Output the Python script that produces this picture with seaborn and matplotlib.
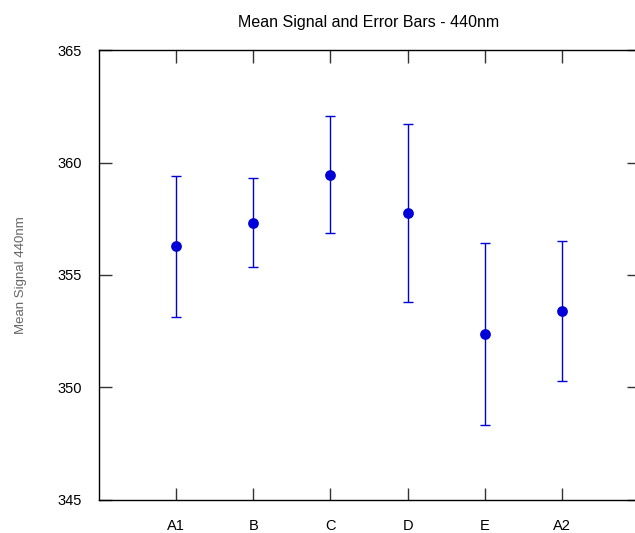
import numpy as np
import pandas as pd
import seaborn as sns
import matplotlib.pyplot as plt

# values
groups = ["A1", "B", "C", "D", "E", "A2"]
mean_signal = [356.28, 357.33, 359.47, 357.76, 352.36, 353.40]
err_signal = [3.13, 1.97, 2.60, 3.95, 4.05, 3.10]
y_ticks = [345, 350, 355, 360, 365]

sns.set_theme(style="white")
plt.rcParams['font.family'] = ['Liberation Sans', 'DejaVu Sans']
plt.rcParams['text.color'] = 'black'

df = pd.DataFrame({"group": groups, "mean": mean_signal, "err": err_signal})
blue = "#0000d8"

fig = plt.figure(figsize=(6.35, 5.33), dpi=100)
ax = fig.add_axes([99 / 635, 1 - 499.6 / 533, 540 / 635, (499.6 - 50.4) / 533])

pos = np.arange(len(groups))
ax.errorbar(pos, df["mean"], yerr=df["err"], fmt="none", ecolor=blue,
            elinewidth=1.0, capsize=3.5, capthick=1.0, zorder=2)
sns.scatterplot(x=pos, y=df["mean"], ax=ax, color=blue, s=60,
                edgecolor=blue, linewidth=0, zorder=3, legend=False)

ax.set_xlim(-1, len(groups))
ax.set_ylim(345, 365)
ax.set_xticks(pos)
ax.set_xticklabels(groups)
ax.set_yticks(y_ticks)
ax.tick_params(axis="both", direction="in", length=9, width=1, color="#333333",
               labelsize=10.5, labelcolor="black", top=True, right=True,
               bottom=True, left=True, pad=12)
ax.tick_params(axis="x", pad=14)
for side in ["left", "bottom", "top"]:
    ax.spines[side].set_color("black")
    ax.spines[side].set_linewidth(1.0)
ax.spines["right"].set_visible(False)

ax.set_xlabel("")
ax.set_ylabel("Mean Signal 440nm", fontsize=9.5, color="#666666", labelpad=22)
ax.set_title("Mean Signal and Error Bars - 440nm", fontsize=11.5, pad=17,
             color="black")

fig.savefig("out.png", dpi=100)
